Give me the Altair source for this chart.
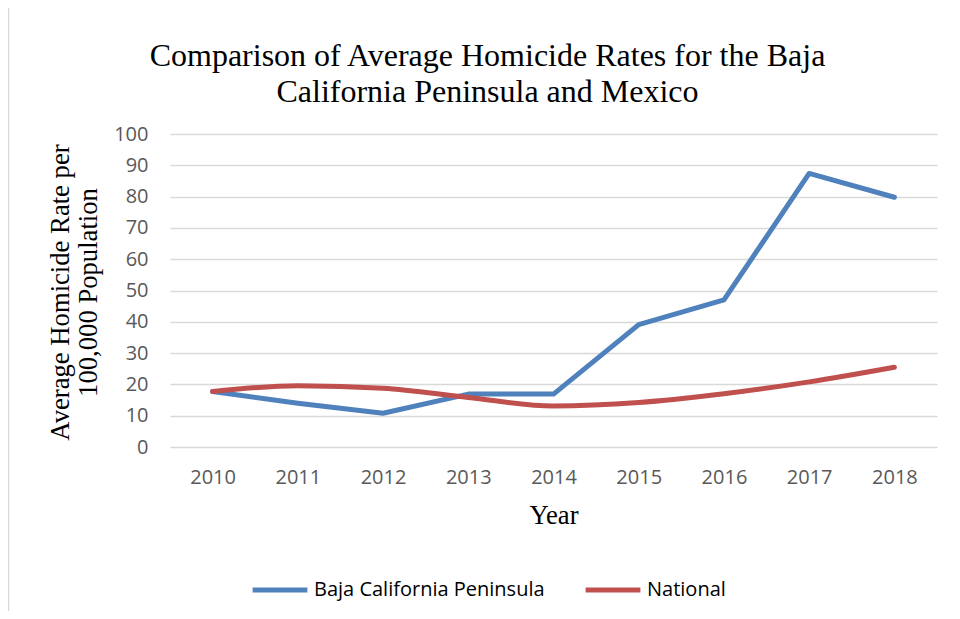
import altair as alt
import pandas as pd

years = ["2010", "2011", "2012", "2013", "2014", "2015", "2016", "2017", "2018"]
baja = [17.7, 14.0, 10.8, 16.9, 16.9, 39.1, 47.0, 87.4, 79.8]
national = [17.7, 19.6, 18.8, 15.8, 13.1, 14.2, 17.0, 20.8, 25.5]
series_names = ["Baja California Peninsula", "National"]
series_colors = ["#4F81BD", "#C0504D"]
y_ticks = [0, 10, 20, 30, 40, 50, 60, 70, 80, 90, 100]

df = pd.DataFrame(
    {
        "Year": years * 2,
        "Rate": baja + national,
        "Series": [series_names[0]] * len(years) + [series_names[1]] * len(years),
    }
)

W, H = 767, 313

color = alt.Color(
    "Series:N",
    scale=alt.Scale(domain=series_names, range=series_colors),
    legend=alt.Legend(
        title=None,
        orient="none",
        direction="horizontal",
        legendX=80,
        legendY=426,
        symbolType="stroke",
        symbolSize=3000,
        symbolStrokeWidth=5,
        labelFont="Open Sans",
        labelFontSize=20,
        labelColor="#000000",
        labelOffset=4,
        labelLimit=0,
        columnPadding=30,
    ),
)

x = alt.X(
    "Year:O",
    sort=years,
    scale=alt.Scale(type="point", padding=0.5),
    axis=alt.Axis(
        title="Year",
        labelAngle=0,
        ticks=False,
        domain=False,
        grid=False,
        labelPadding=20,
        titlePadding=15,
    ),
)
y = alt.Y(
    "Rate:Q",
    scale=alt.Scale(domain=[0, 100], nice=False),
    axis=alt.Axis(
        title=["Average Homicide Rate per", "100,000 Population"],
        values=y_ticks,
        ticks=False,
        tickSize=0,
        domain=False,
        labelPadding=22,
        titleX=-102,
        titleY=158,
        titleAngle=-90,
        titleAlign="center",
        titleBaseline="alphabetic",
        titleLineHeight=28,
    ),
)

base = alt.Chart(df)

blue = base.transform_filter(alt.datum.Series == series_names[0]).mark_line(
    strokeWidth=5, strokeCap="round", strokeJoin="round"
).encode(x=x, y=y, color=color)

red = base.transform_filter(alt.datum.Series == series_names[1]).mark_line(
    strokeWidth=5, strokeCap="round", strokeJoin="round", interpolate="monotone"
).encode(x=x, y=y, color=color)

border = alt.Chart(pd.DataFrame({"a": [0]})).mark_rect(
    fill="transparent", stroke="#d9d9d9", strokeWidth=1.5
).encode(
    x=alt.value(-161.5), x2=alt.value(800), y=alt.value(-127), y2=alt.value(495)
)

chart = (
    alt.layer(border, blue, red)
    .properties(
        width=W,
        height=H,
        autosize=alt.AutoSizeParams(type="none"),
        padding={"left": 162, "top": 126, "right": 15, "bottom": 164},
        background="white",
        title=alt.TitleParams(
            text=[
                "Comparison of Average Homicide Rates for the Baja",
                "California Peninsula and Mexico",
            ],
            anchor="middle",
            font="Liberation Serif",
            fontSize=32,
            fontWeight="normal",
            color="#000000",
            lineHeight=36,
            dx=-66,
            offset=-103,
        ),
    )
    .configure_view(stroke=None)
    .configure_axis(
        labelFont="Open Sans",
        labelFontSize=20,
        labelColor="#595959",
        titleFont="Liberation Serif",
        titleFontSize=26.67,
        titleFontWeight="normal",
        titleColor="#000000",
        gridColor="#d9d9d9",
        gridWidth=1.5,
    )
)

chart.save("out.html", embed_options={"renderer": "svg", "actions": False})
